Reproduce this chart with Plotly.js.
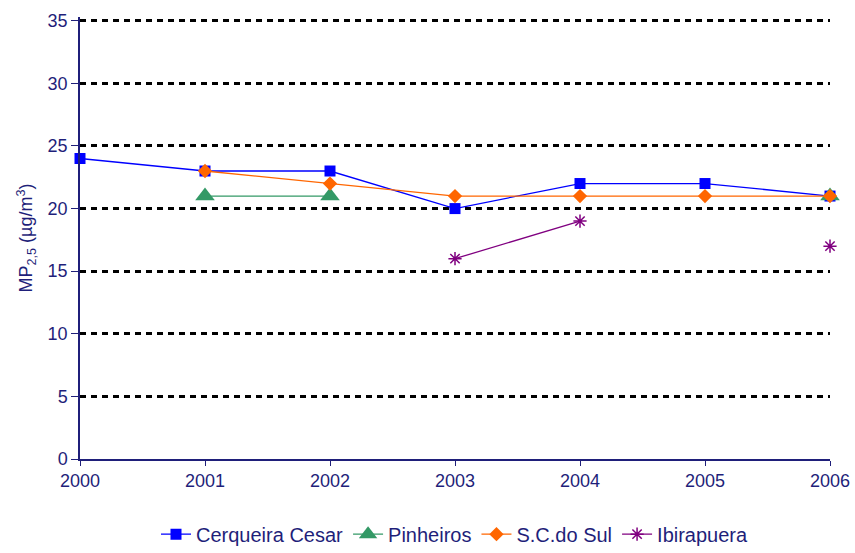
<!DOCTYPE html>
<html><head><meta charset="utf-8">
<script src="https://cdn.plot.ly/plotly-3.0.1.min.js"></script>
<style>body{margin:0;background:#fff}#c{width:855px;height:553px}</style>
</head><body><div id="c"></div>
<script>
const years = [2000, 2001, 2002, 2003, 2004, 2005, 2006];
const cerqueira = [24, 23, 23, 20, 22, 22, 21];
const pinheiros = [null, 21, 21, null, null, null, 21];
const scdosul = [null, 23, 22, 21, 21, 21, 21];
const ibirapuera = [null, null, null, 16, 19, null, 17];
const yTicks = [0, 5, 10, 15, 20, 25, 30, 35];
const navy = '#1f1f7a';
const traces = [
  {name: 'Cerqueira Cesar', x: years, y: cerqueira, mode: 'lines+markers',
   line: {color: '#0000ff', width: 1.3}, marker: {symbol: 'square', size: 11, color: '#0000ff'}},
  {name: 'Pinheiros', x: years, y: pinheiros, mode: 'lines+markers',
   line: {color: '#339966', width: 1.3}, marker: {symbol: 'triangle-up', size: 17, color: '#339966'}},
  {name: 'S.C.do Sul', x: years, y: scdosul, mode: 'lines+markers',
   line: {color: '#ff6600', width: 1.3}, marker: {symbol: 'diamond', size: 11, color: '#ff6600'}},
  {name: 'Ibirapuera', x: years, y: ibirapuera, mode: 'lines+markers',
   line: {color: '#800080', width: 1.3}, marker: {symbol: 'asterisk-open', size: 11, color: '#800080', line: {color: '#800080', width: 1.5}}}
];
traces.forEach(t => { t.cliponaxis = false; });
const layout = {
  width: 855, height: 553,
  margin: {l: 80, r: 25, t: 17, b: 94, autoexpand: false},
  paper_bgcolor: '#fff', plot_bgcolor: '#fff',
  font: {family: 'Liberation Sans, Arial, sans-serif', color: navy, size: 18},
  xaxis: {range: [2000, 2006], tickvals: years, showgrid: false, zeroline: false,
    showline: true, linecolor: navy, linewidth: 1.5, ticks: 'outside', ticklen: 5, tickcolor: navy,
    tickfont: {size: 18, color: navy}},
  yaxis: {range: [0, 35.3], tickvals: yTicks, showgrid: true, gridcolor: '#000', gridwidth: 2.5, griddash: '6px,5px',
    zeroline: false, showline: true, linecolor: navy, linewidth: 1.5, ticks: 'outside', ticklen: 7, tickcolor: navy,
    tickfont: {size: 18, color: navy},
    title: {text: 'MP<sub>2,5</sub> (µg/m<sup>3</sup>)', font: {size: 18, color: navy}, standoff: 10}},
  legend: {orientation: 'h', x: 0.5, xanchor: 'center', y: -0.17, yanchor: 'middle',
    font: {size: 20, color: navy}, tracegroupgap: 0},
  showlegend: true
};
Plotly.newPlot('c', traces, layout, {displayModeBar: false});
</script></body></html>
